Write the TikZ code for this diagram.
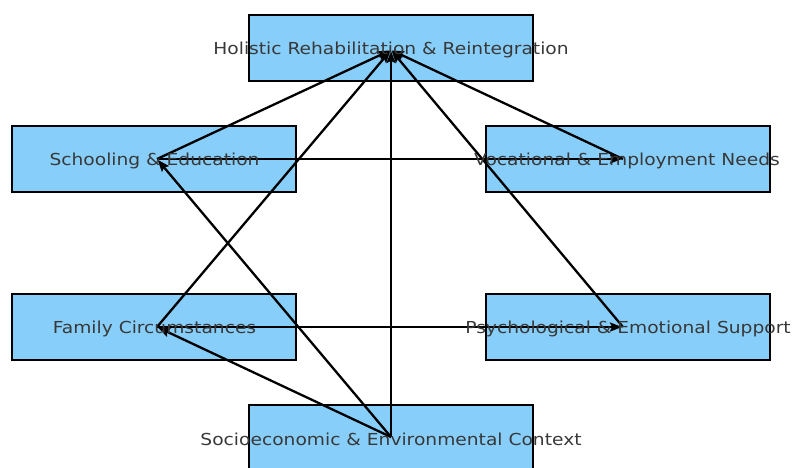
\documentclass[tikz,border=0pt]{standalone}
\usepackage{fontspec}
\setmainfont{DejaVu Sans}
\usetikzlibrary{arrows.meta}
\definecolor{boxfill}{HTML}{87CEFA}
\definecolor{txt}{HTML}{383838}
\tikzset{
  boxshape/.style={draw=black, line width=1.3pt, fill=boxfill},
  lbl/.style={text=txt, font=\fontsize{16.5}{18}\selectfont, inner sep=0pt, xscale=1.13, yshift=-1.5pt},
  edge/.style={line width=2.3pt, -{Stealth[length=12pt,width=9pt,inset=2pt]}, shorten >=1pt},
}
\begin{document}
\begin{tikzpicture}[x=1pt,y=-1pt]
\useasboundingbox (0,0) rectangle (792,467);
\begin{scope}
\clip (0,0) rectangle (792,467);
% boxes
\draw[boxshape] (249,15) rectangle (533,81);
\draw[boxshape] (12,126) rectangle (296,192);
\draw[boxshape] (486,126) rectangle (770,192);
\draw[boxshape] (12,294) rectangle (296,360);
\draw[boxshape] (486,294) rectangle (770,360);
\draw[boxshape] (249,405) rectangle (533,480);
\end{scope}
% node points
\coordinate (H) at (391,50);
\coordinate (S) at (157,159);
\coordinate (V) at (623,159);
\coordinate (F) at (157,327);
\coordinate (P) at (623,327);
\coordinate (C) at (391,437);
% edges
\draw[edge] (S) -- (H);
\draw[edge] (S) -- (V);
\draw[edge] (F) -- (H);
\draw[edge] (F) -- (P);
\draw[edge] (C) -- (F);
\draw[edge] (C) -- (S);
\draw[edge] (C) -- (H);
\draw[edge] (V) -- (H);
\draw[edge] (P) -- (H);
% labels
\node[lbl] (tH) at (391,48) {Holistic Rehabilitation \& Reintegration};
\node[lbl] (tS) at (154.5,159) {Schooling \& Education};
\node[lbl] (tV) at (627,159) {Vocational \& Employment Needs};
\node[lbl] (tF) at (154.5,327) {Family Circumstances};
\node[lbl] (tP) at (628,327) {Psychological \& Emotional Support};
\node[lbl] (tC) at (391,438) {Socioeconomic \& Environmental Context};
\end{tikzpicture}
\end{document}
